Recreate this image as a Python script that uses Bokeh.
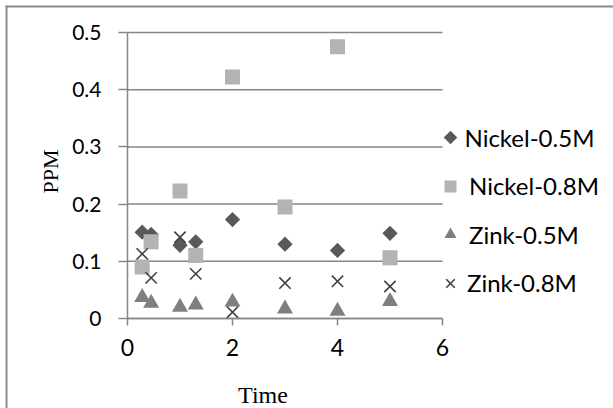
import numpy as np
from bokeh.plotting import figure
from bokeh.models import Range1d, FixedTicker, Legend, LegendItem, Label, BoxAnnotation
from bokeh.embed import file_html
from bokeh.resources import INLINE

# ---- data ----
time = [0.28, 0.45, 1, 1.3, 2, 3, 4, 5]
nickel_05 = [0.151, 0.147, 0.128, 0.134, 0.173, 0.130, 0.119, 0.149]
nickel_08 = [0.090, 0.134, 0.223, 0.110, 0.422, 0.195, 0.475, 0.106]
zink_05 = [0.037, 0.027, 0.020, 0.024, 0.029, 0.017, 0.013, 0.030]
zink_08 = [0.113, 0.071, 0.142, 0.078, 0.011, 0.062, 0.065, 0.056]
series_names = ["Nickel-0.5M", "Nickel-0.8M", "Zink-0.5M", "Zink-0.8M"]
x_ticks = [0, 2, 4, 6]
y_ticks = [0, 0.1, 0.2, 0.3, 0.4, 0.5]
y_tick_labels = ["0", "0.1", "0.2", "0.3", "0.4", "0.5"]
x_title, y_title = "Time", "PPM"

# ---- layout (canvas pixels) ----
W, H = 613, 408
PL, PR, PT, PB = 127, 442, 32, 318  # plot-area edges
GRID = "#868686"
BORDER = "#8c8c8c"

# The Bokeh frame covers the whole canvas so that the legend, titles and chart
# border can all be drawn without being clipped; the ranges are stretched so
# the axis extents land on the plot-area edges above.
x0, x1 = x_ticks[0], x_ticks[-1]
y0, y1 = y_ticks[0], y_ticks[-1]
xs = (x1 - x0) / (PR - PL)
ys = (y1 - y0) / (PB - PT)

p = figure(width=W, height=H, output_backend="svg", toolbar_location=None, title=None,
           x_range=Range1d(x0 - PL * xs, x0 + (W - PL) * xs),
           y_range=Range1d(y0 - (H - PB) * ys, y0 + PB * ys),
           min_border_left=0, min_border_right=0, min_border_top=0, min_border_bottom=0)
p.outline_line_color = None
p.background_fill_color = "white"
p.border_fill_color = "white"
p.xgrid.visible = False
p.ygrid.visible = False

for ax in (p.xaxis[0], p.yaxis[0]):
    ax.axis_line_color = GRID
    ax.axis_line_width = 1.5
    ax.major_tick_line_color = GRID
    ax.major_tick_line_width = 1.5
    ax.minor_tick_line_color = None
    ax.major_tick_in = 0
    ax.major_label_text_font = "Lato"
    ax.major_label_text_color = "black"

p.xaxis.fixed_location = y0
p.xaxis.bounds = (x0, x1)
p.xaxis.ticker = FixedTicker(ticks=x_ticks)
p.xaxis.major_tick_out = 7
p.xaxis.major_label_text_font_size = "23px"
p.xaxis.major_label_standoff = 13

p.yaxis.fixed_location = x0
p.yaxis.bounds = (y0, y1)
p.yaxis.ticker = FixedTicker(ticks=y_ticks)
p.yaxis.major_label_overrides = {t: s for t, s in zip(y_ticks, y_tick_labels)}
p.yaxis.major_tick_out = 9
p.yaxis.major_label_text_font_size = "21px"
p.yaxis.major_label_standoff = 17

# horizontal gridlines over the x extent of the axis
p.segment(x0=[x0] * len(y_ticks), x1=[x1] * len(y_ticks),
          y0=y_ticks, y1=y_ticks, line_color=GRID, line_width=1.5)

# ---- series ----
styles = [
    dict(marker="square", angle=np.pi / 4, fill_color="#595959", line_color=None),
    dict(marker="square", fill_color="#b3b3b3", line_color=None),
    dict(marker="triangle", fill_color="#7f7f7f", line_color=None),
    dict(marker="x", line_color="#404040", line_width=1.6),
]
plot_sizes = [10.8, 15, 16, 16]
series = [nickel_05, nickel_08, zink_05, zink_08]
renderers = [p.scatter(time, yv, size=s, **st) for yv, s, st in zip(series, plot_sizes, styles)]

# ---- legend ----
row_y = [137, 185.5, 234, 282.5]
marker_cx, text_x = 450, 465
glyph_w = [1, 38, 38, 34]


def to_data_x(sx):
    return x0 + (sx - PL) * xs


def to_data_y(sy):
    return y0 + (PB - sy) * ys


# Bokeh draws legend markers unrotated, so the diamond key is its own rotated
# marker and its legend box only carries the text.
key_diamond = p.scatter([to_data_x(marker_cx)], [to_data_y(row_y[0])], size=9.6, **styles[0])
legend_renderers = [key_diamond] + renderers[1:]

for r, name, gw, cy in zip(legend_renderers, series_names, glyph_w, row_y):
    gh = 30
    leg = Legend(items=[LegendItem(label=name, renderers=[r])],
                 location=(marker_cx - gw / 2, H - cy - gh / 2),
                 glyph_width=gw, glyph_height=gh, label_height=gh,
                 label_standoff=int(round(text_x - marker_cx - gw / 2)),
                 padding=0, margin=0, spacing=0,
                 border_line_color=None, background_fill_alpha=0,
                 label_text_font="Lato", label_text_font_size="24px",
                 label_text_color="black")
    p.add_layout(leg, "center")

# ---- axis titles (anchored at their centres) ----
p.add_layout(Label(x=262.5, y=H - 394, x_units="screen", y_units="screen",
                   text=x_title, text_font="Liberation Serif", text_font_size="24px",
                   text_align="center", text_baseline="middle", text_color="black"))
p.add_layout(Label(x=49.5, y=H - 171, x_units="screen", y_units="screen",
                   text=y_title, angle=np.pi / 2, text_font="Liberation Serif",
                   text_font_size="22px", text_align="center",
                   text_baseline="middle", text_color="black"))

# ---- chart-area border: only its left and top edges fall inside the picture ----
p.add_layout(BoxAnnotation(left=5, right=7, top=5, bottom=H,
                           left_units="canvas", right_units="canvas",
                           top_units="canvas", bottom_units="canvas",
                           fill_color=BORDER, fill_alpha=1, line_color=None))
p.add_layout(BoxAnnotation(left=5, right=W, top=5, bottom=7,
                           left_units="canvas", right_units="canvas",
                           top_units="canvas", bottom_units="canvas",
                           fill_color=BORDER, fill_alpha=1, line_color=None))

open("out.html", "w").write(file_html(p, INLINE))
